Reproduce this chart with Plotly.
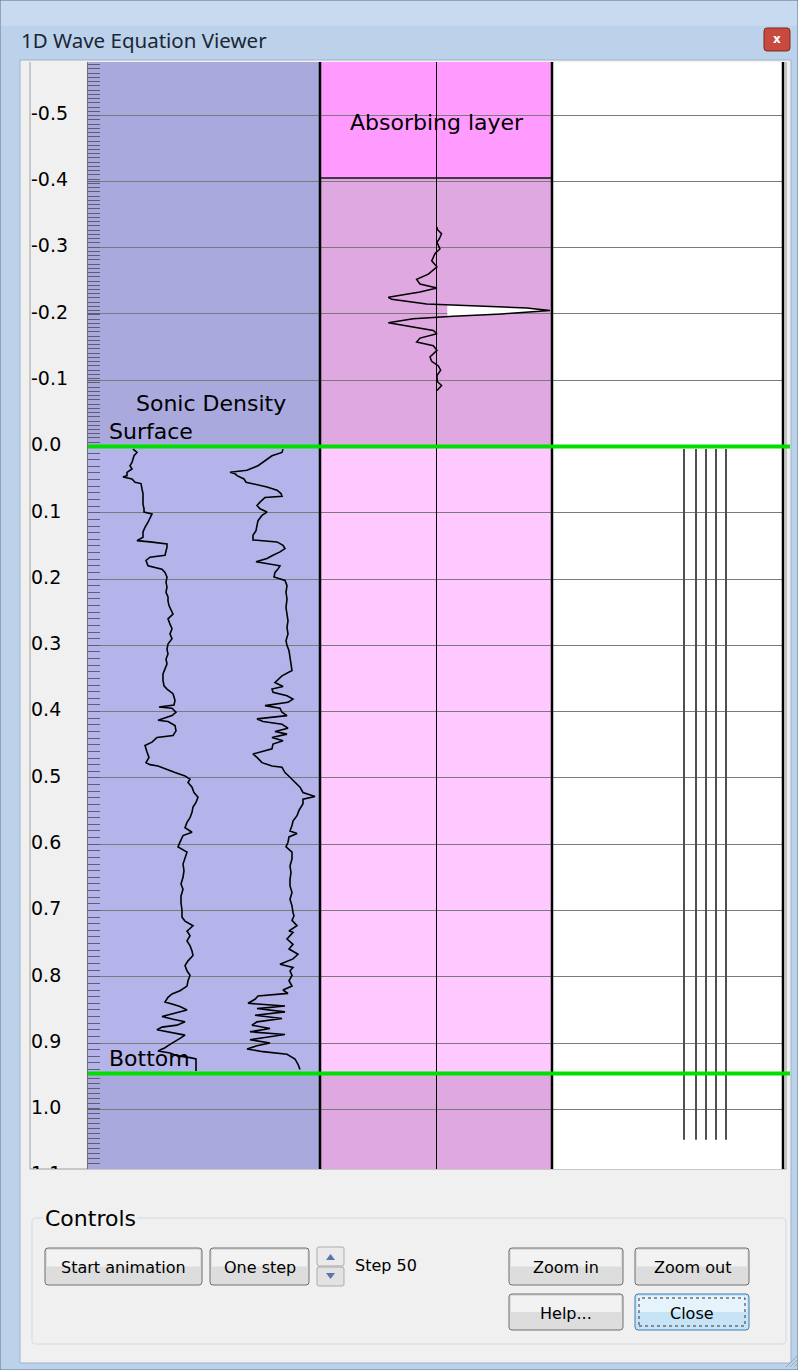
import numpy as np
import plotly.graph_objects as go

W, H = 798, 1370

# ---- values ----
tick_depths = [-0.5, -0.4, -0.3, -0.2, -0.1, 0.0, 0.1, 0.2, 0.3, 0.4,
               0.5, 0.6, 0.7, 0.8, 0.9, 1.0, 1.1]
tick_labels = ["-0.5", "-0.4", "-0.3", "-0.2", "-0.1", "0.0", "0.1", "0.2", "0.3",
               "0.4", "0.5", "0.6", "0.7", "0.8", "0.9", "1.0", "1.1"]

depth_range = [1.090, -0.580]
surface_depth = 0.0
bottom_depth = 0.946
absorb_depth = -0.405

sonic_depth = [0.004, 0.009, 0.014, 0.019, 0.024, 0.029, 0.034, 0.039, 0.044, 0.046,
               0.049, 0.054, 0.056, 0.064, 0.071, 0.079, 0.087, 0.094, 0.099, 0.102,
               0.109, 0.114, 0.122, 0.129, 0.137, 0.142, 0.144, 0.147, 0.152, 0.159,
               0.164, 0.167, 0.172, 0.180, 0.185, 0.190, 0.197, 0.205, 0.212, 0.220,
               0.227, 0.233, 0.240, 0.253, 0.260, 0.268, 0.275, 0.283, 0.290, 0.298,
               0.306, 0.313, 0.321, 0.328, 0.336, 0.343, 0.353, 0.361, 0.366, 0.373,
               0.383, 0.390, 0.393, 0.395, 0.401, 0.406, 0.413, 0.415, 0.421, 0.429,
               0.436, 0.439, 0.446, 0.451, 0.461, 0.469, 0.477, 0.480, 0.482, 0.487,
               0.492, 0.497, 0.502, 0.507, 0.514, 0.522, 0.529, 0.537, 0.544, 0.552,
               0.560, 0.567, 0.575, 0.582, 0.587, 0.597, 0.604, 0.612, 0.622, 0.630,
               0.640, 0.650, 0.660, 0.668, 0.678, 0.688, 0.700, 0.710, 0.716, 0.723,
               0.731, 0.738, 0.746, 0.753, 0.761, 0.768, 0.776, 0.783, 0.791, 0.798,
               0.806, 0.814, 0.821, 0.826, 0.831, 0.838, 0.841, 0.845, 0.850, 0.856,
               0.860, 0.864, 0.868, 0.873, 0.876, 0.880, 0.884, 0.888, 0.893, 0.897,
               0.902, 0.907, 0.912, 0.915, 0.919, 0.922, 0.924, 0.942]
sonic_value = [45, 49, 46, 45, 44, 42, 44, 39, 39, 35,
               44, 47, 53, 54, 55, 55, 55, 56, 56, 64,
               62, 60, 57, 55, 55, 49, 62, 79, 79, 78,
               77, 62, 58, 60, 74, 77, 79, 78, 79, 78,
               80, 80, 81, 85, 80, 82, 84, 82, 84, 80,
               79, 80, 78, 79, 77, 75, 75, 76, 79, 85,
               87, 86, 71, 84, 88, 84, 70, 80, 87, 88,
               85, 69, 64, 57, 59, 61, 58, 62, 70, 78,
               87, 97, 102, 100, 104, 106, 110, 108, 105, 104,
               102, 99, 97, 104, 95, 92, 90, 99, 97, 95,
               96, 95, 93, 95, 93, 93, 94, 94, 97, 105,
               99, 102, 99, 102, 104, 105, 100, 97, 99, 102,
               100, 99, 92, 84, 80, 77, 84, 92, 99, 85,
               74, 85, 97, 89, 74, 69, 84, 97, 92, 87,
               82, 77, 70, 82, 89, 102, 108, 108]

density_depth = [0.004, 0.009, 0.014, 0.019, 0.024, 0.029, 0.034, 0.036, 0.039, 0.041,
                 0.044, 0.049, 0.054, 0.056, 0.061, 0.066, 0.071, 0.075, 0.077, 0.084,
                 0.089, 0.094, 0.099, 0.104, 0.112, 0.119, 0.127, 0.134, 0.141, 0.144,
                 0.149, 0.154, 0.159, 0.164, 0.169, 0.174, 0.180, 0.185, 0.190, 0.197,
                 0.202, 0.210, 0.220, 0.230, 0.243, 0.253, 0.263, 0.273, 0.283, 0.293,
                 0.300, 0.308, 0.318, 0.328, 0.338, 0.346, 0.351, 0.356, 0.362, 0.366,
                 0.371, 0.376, 0.381, 0.386, 0.391, 0.395, 0.401, 0.406, 0.411, 0.415,
                 0.419, 0.425, 0.430, 0.434, 0.439, 0.444, 0.449, 0.456, 0.464, 0.469,
                 0.477, 0.482, 0.484, 0.492, 0.499, 0.507, 0.514, 0.522, 0.528, 0.532,
                 0.539, 0.549, 0.557, 0.565, 0.572, 0.580, 0.584, 0.589, 0.597, 0.604,
                 0.612, 0.622, 0.633, 0.643, 0.653, 0.663, 0.673, 0.683, 0.693, 0.703,
                 0.708, 0.715, 0.723, 0.731, 0.733, 0.743, 0.751, 0.758, 0.766, 0.773,
                 0.781, 0.786, 0.791, 0.798, 0.806, 0.814, 0.820, 0.825, 0.829, 0.834,
                 0.840, 0.844, 0.848, 0.853, 0.858, 0.863, 0.868, 0.873, 0.878, 0.883,
                 0.887, 0.892, 0.895, 0.900, 0.904, 0.909, 0.913, 0.917, 0.924, 0.932,
                 0.940]
density_value = [195, 194, 184, 179, 175, 170, 162, 159, 142, 147,
                 149, 156, 158, 165, 179, 189, 193, 194, 177, 172,
                 169, 172, 179, 174, 170, 169, 168, 165, 165, 189,
                 195, 197, 192, 185, 179, 168, 192, 190, 187, 186,
                 197, 199, 198, 199, 198, 199, 200, 199, 200, 198,
                 199, 201, 202, 203, 204, 194, 190, 187, 195, 184,
                 185, 199, 205, 200, 177, 192, 194, 199, 169, 175,
                 194, 200, 187, 199, 184, 195, 185, 184, 165, 169,
                 174, 184, 194, 197, 202, 207, 212, 215, 227, 215,
                 215, 211, 209, 205, 204, 202, 209, 201, 200, 198,
                 204, 204, 202, 203, 202, 202, 204, 202, 204, 205,
                 206, 204, 209, 201, 205, 199, 205, 201, 210, 205,
                 192, 205, 202, 204, 201, 204, 195, 200, 170, 167,
                 160, 197, 169, 197, 167, 194, 169, 164, 182, 162,
                 197, 175, 162, 182, 169, 159, 175, 199, 207, 210,
                 212]

wave_depth = [-0.331, -0.327, -0.321, -0.313, -0.308, -0.298, -0.291, -0.280, -0.271,
              -0.260, -0.252, -0.245, -0.239, -0.233, -0.225, -0.222, -0.215, -0.2125,
              -0.209, -0.205, -0.200, -0.1965, -0.1925, -0.1865, -0.1825, -0.175,
              -0.170, -0.1635, -0.1575, -0.152, -0.145, -0.135, -0.1285, -0.1215,
              -0.115, -0.107, -0.098, -0.092, -0.0845]
wave_amp = [0, 0.005, 0.04, 0.02, 0, 0.026, -0.017, -0.046, 0,
            -0.075, -0.177, -0.148, 0, -0.148, -0.423, -0.394, -0.09, 0.287,
            0.78, 0.983, 0.563, 0.142, -0.206, -0.423, -0.293, -0.032,
            0, -0.148, -0.177, -0.032, 0, -0.061, -0.046, 0.012,
            0.032, 0, 0.003, 0.04, 0]

receiver_x = [132, 144, 154, 164, 174]
receiver_top = 0.004
receiver_bottom = 1.046

# ---- pixel helpers for the window chrome ----
def fx(x):
    return x / W

def fy(y):
    return 1 - y / H

def pt(x, y):
    return "%.5f,%.5f" % (fx(x), fy(y))

shapes = []
annotations = []

def rect(x0, y0, x1, y1, fill, line=None, lw=1, layer="below", dash="solid"):
    shapes.append(dict(type="rect", xref="paper", yref="paper",
                       x0=fx(x0), x1=fx(x1), y0=fy(y1), y1=fy(y0),
                       fillcolor=fill, layer=layer,
                       line=dict(color=line if line else "rgba(0,0,0,0)",
                                 width=lw if line else 0, dash=dash)))

def rrect(x0, y0, x1, y1, r, fill, line, lw=1, layer="below"):
    path = ("M " + pt(x0 + r, y0) + " L " + pt(x1 - r, y0) + " Q " + pt(x1, y0) + " " + pt(x1, y0 + r) +
            " L " + pt(x1, y1 - r) + " Q " + pt(x1, y1) + " " + pt(x1 - r, y1) +
            " L " + pt(x0 + r, y1) + " Q " + pt(x0, y1) + " " + pt(x0, y1 - r) +
            " L " + pt(x0, y0 + r) + " Q " + pt(x0, y0) + " " + pt(x0 + r, y0) + " Z")
    shapes.append(dict(type="path", xref="paper", yref="paper", path=path,
                       fillcolor=fill, layer=layer, line=dict(color=line, width=lw)))

def seg(x0, y0, x1, y1, color, lw=1, layer="below"):
    shapes.append(dict(type="line", xref="paper", yref="paper",
                       x0=fx(x0), x1=fx(x1), y0=fy(y0), y1=fy(y1),
                       line=dict(color=color, width=lw), layer=layer))

def text(x, y, s, size, family="DejaVu Sans", color="black", xanchor="center", **kw):
    annotations.append(dict(xref="paper", yref="paper", x=fx(x), y=fy(y), text=s,
                            showarrow=False, xanchor=xanchor, yanchor="middle",
                            font=dict(family=family, size=size, color=color), **kw))

# window frame, title bar, client area
rect(0, 0, W, H, "#BCD2EA", "#61758F")
rect(1, 1, W - 1, 26, "#C7DAEF")
rect(20, 60, 791, 1363, "#F0F0F0", "#9FB3CA")
text(19, 40, "1D Wave Equation Viewer", 20.5, family="Noto Sans", color="#1B2636", xanchor="left")
rrect(764, 28, 790, 51, 3, "#C8493D", "#7E2A22")
text(777, 39, "<b>x</b>", 12, color="white")

# panel borders
seg(30, 62, 30, 1169, "#A0A0A0")
seg(30, 1169, 787, 1169, "#A0A0A0")
seg(786, 62, 786, 1169, "#C4C4C4", 2)

# controls group
rrect(32, 1218, 786, 1344, 4, "rgba(0,0,0,0)", "#D2DBE2")
text(43, 1218, "Controls", 22, xanchor="left", bgcolor="#F0F0F0")

buttons = [(45, 1248, 202, 1285, "Start animation"), (210, 1248, 309, 1285, "One step"),
           (509, 1248, 623, 1285, "Zoom in"), (635, 1248, 749, 1285, "Zoom out"),
           (509, 1294, 623, 1330, "Help...")]
for x0, y0, x1, y1, lab in buttons:
    rrect(x0, y0, x1, y1, 3, "#DDDDDD", "#707070")
    rect(x0 + 2, y0 + 2, x1 - 2, (y0 + y1) / 2, "#F2F2F2")
    text((x0 + x1) / 2, (y0 + y1) / 2 + 1, lab, 16)

rrect(635, 1294, 749, 1330, 3, "#C6E4F6", "#3C7FB1")
rect(637, 1296, 747, 1312, "#E4F3FC")
rect(639, 1298, 745, 1326, "rgba(0,0,0,0)", "#333333", 1, dash="dot")
text(692, 1313, "Close", 16)

# spinner
rrect(317, 1247, 344, 1266, 2, "#EAEAEA", "#ABABAB")
rrect(317, 1267, 344, 1286, 2, "#E2E2E2", "#ABABAB")
shapes.append(dict(type="path", xref="paper", yref="paper", layer="below",
                   path="M " + pt(326, 1260) + " L " + pt(335, 1260) + " L " + pt(330.5, 1254) + " Z",
                   fillcolor="#5A74A8", line=dict(width=0)))
shapes.append(dict(type="path", xref="paper", yref="paper", layer="below",
                   path="M " + pt(326, 1273) + " L " + pt(335, 1273) + " L " + pt(330.5, 1279) + " Z",
                   fillcolor="#5A74A8", line=dict(width=0)))
text(353, 1265, "Step 50", 16, xanchor="left")

# resize grip
for k in range(3):
    seg(797, 1356 + 4 * k, 786 + 4 * k, 1367, "#9AA7B5")

# ---- depth panels ----
SONIC_DOM = [88 / W, 320 / W]
WAVE_DOM = [320 / W, 552 / W]
RIGHT_DOM = [552 / W, 783 / W]
STRIP_DOM = [30 / W, 88 / W]
Y_DOM = [1 - 1169 / H, 1 - 62 / H]

def band(xref, d0, d1, color):
    shapes.append(dict(type="rect", xref=xref, yref="y", x0=0, x1=1, y0=d0, y1=d1,
                       fillcolor=color, line=dict(width=0), layer="below"))

top, bot = depth_range[1], depth_range[0]
band("x domain", top, surface_depth, "#A9A9DE")
band("x domain", surface_depth, bottom_depth, "#B4B4EA")
band("x domain", bottom_depth, bot, "#A9A9DE")
band("x2 domain", top, absorb_depth, "#FF9BFF")
band("x2 domain", absorb_depth, surface_depth, "#E0A8E0")
band("x2 domain", surface_depth, bottom_depth, "#FFC8FF")
band("x2 domain", bottom_depth, bot, "#E0A8E0")
band("x3 domain", top, bot, "#FFFFFF")

shapes.append(dict(type="line", xref="x2 domain", yref="y", x0=0, x1=1,
                   y0=absorb_depth, y1=absorb_depth, line=dict(color="#111111", width=1.5), layer="above"))
for xr in ["x domain", "x2 domain", "x3 domain"]:
    shapes.append(dict(type="line", xref=xr, yref="y domain", x0=1, x1=1, y0=0, y1=1,
                       line=dict(color="black", width=2.5), layer="above"))
for d in [surface_depth, bottom_depth]:
    shapes.append(dict(type="line", xref="paper", yref="y", x0=88 / W, x1=790 / W, y0=d, y1=d,
                       line=dict(color="#00E000", width=4), layer="above"))

fig = go.Figure()

# sonic / density logs
fig.add_trace(go.Scatter(x=sonic_value, y=sonic_depth, mode="lines",
                         line=dict(color="black", width=1.6), xaxis="x", yaxis="y"))
fig.add_trace(go.Scatter(x=density_value, y=density_depth, mode="lines",
                         line=dict(color="black", width=1.6), xaxis="x", yaxis="y"))

# wave trace with white variable-area fill above the clip
clip = 0.09
idx = [i for i, a in enumerate(wave_amp) if a > clip]
i0, i1 = idx[0], idx[-1]
def cross(i, j):
    t = (clip - wave_amp[i]) / (wave_amp[j] - wave_amp[i])
    return wave_depth[i] + t * (wave_depth[j] - wave_depth[i])
fill_x = [clip] + wave_amp[i0:i1 + 1] + [clip]
fill_y = [cross(i0 - 1, i0)] + wave_depth[i0:i1 + 1] + [cross(i1, i1 + 1)]
fig.add_trace(go.Scatter(x=fill_x, y=fill_y, mode="lines", fill="toself", fillcolor="white",
                         line=dict(width=0), xaxis="x2", yaxis="y"))
fig.add_trace(go.Scatter(x=wave_amp, y=wave_depth, mode="lines",
                         line=dict(color="black", width=1.5), xaxis="x2", yaxis="y"))

# receiver strings in the right panel
rx, ry = [], []
for r in receiver_x:
    rx += [r, r, None]
    ry += [receiver_top, receiver_bottom, None]
fig.add_trace(go.Scatter(x=rx, y=ry, mode="lines", line=dict(color="#505050", width=2),
                         xaxis="x3", yaxis="y"))

# depth labels in the left strip
fig.add_trace(go.Scatter(x=[1] * len(tick_depths), y=tick_depths, text=tick_labels,
                         mode="text", textposition="middle right", cliponaxis=True,
                         textfont=dict(family="DejaVu Sans", size=19, color="black"),
                         xaxis="x4", yaxis="y2"))

# in-plot labels
for xr, xv, yv, s, anch in [("x", 123, -0.065, "Sonic Density", "center"),
                            ("x", 19, -0.023, "Surface", "left"),
                            ("x", 19, 0.924, "Bottom", "left"),
                            ("x2", 0, -0.489, "Absorbing layer", "center")]:
    annotations.append(dict(xref=xr, yref="y", x=xv, y=yv, text=s, showarrow=False,
                            xanchor=anch, yanchor="middle",
                            font=dict(family="DejaVu Sans", size=22, color="black")))

# minor tick marks along the left edge of the log panel
minor_ticks = np.concatenate([-np.arange(0.0064, 0.58, 0.0064),
                              np.arange(0.01, bottom_depth, 0.01),
                              bottom_depth + np.arange(0.0075, 0.15, 0.0075)])

hidden = dict(showgrid=False, zeroline=False, showticklabels=False, ticks="", showline=False)
fig.update_layout(
    width=W, height=H, margin=dict(l=0, r=0, t=0, b=0),
    paper_bgcolor="#F0F0F0", plot_bgcolor="rgba(0,0,0,0)", showlegend=False,
    xaxis=dict(domain=SONIC_DOM, range=[0, 232], anchor="y", **hidden),
    xaxis2=dict(domain=WAVE_DOM, range=[-1.017, 1.0], anchor="y",
                showgrid=False, showticklabels=False, ticks="", showline=False,
                zeroline=True, zerolinecolor="black", zerolinewidth=1),
    xaxis3=dict(domain=RIGHT_DOM, range=[0, 231], anchor="y", **hidden),
    xaxis4=dict(domain=STRIP_DOM, range=[0, 58], anchor="y2", **hidden),
    yaxis=dict(domain=Y_DOM, range=depth_range, anchor="x", tick0=0, dtick=0.1,
               showgrid=True, gridcolor="#7A7A7A", gridwidth=1.3, zeroline=False,
               showticklabels=False, ticks="inside", ticklen=12, tickcolor="#5E5E6E",
               showline=True, linecolor="#6E6E7E", linewidth=1,
               minor=dict(tickmode="array", tickvals=list(minor_ticks), ticks="inside",
                          ticklen=12, tickcolor="#5E5E6E", showgrid=False)),
    yaxis2=dict(domain=Y_DOM, range=depth_range, anchor="x4", **hidden),
    shapes=shapes, annotations=annotations,
)

fig.write_html("out.html", config={"displayModeBar": False},
               post_script="document.body.style.margin='0';document.body.style.overflow='hidden';")
